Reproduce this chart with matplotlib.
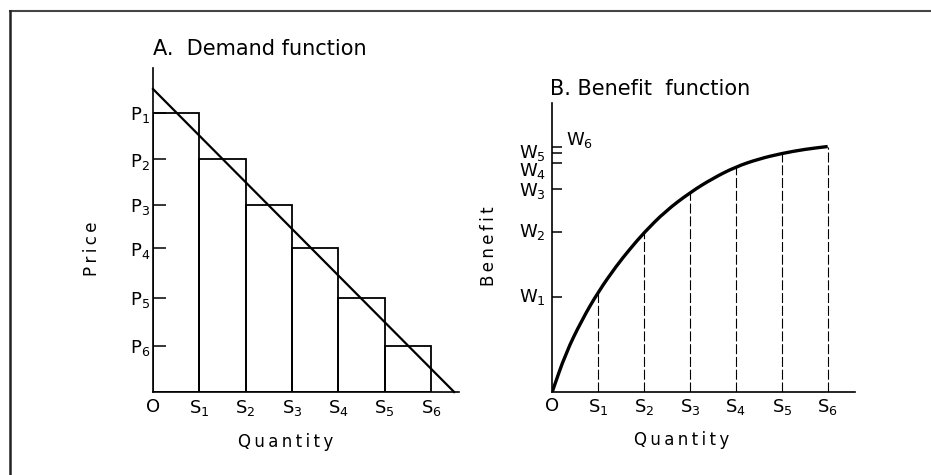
import matplotlib.pyplot as plt
from matplotlib.lines import Line2D
from matplotlib.path import Path
from matplotlib.patches import PathPatch

# Panel A: stepped demand (axis units)
quantity_labels = ["O", "S$_1$", "S$_2$", "S$_3$", "S$_4$", "S$_5$", "S$_6$"]
quantity_pos = [0, 1, 2, 3, 4, 5, 6]
step_left = [0, 1, 2, 3, 4, 5]
prices = [6.02, 5.02, 4.04, 3.1, 2.03, 1.0]
price_labels = ["P$_1$", "P$_2$", "P$_3$", "P$_4$", "P$_5$", "P$_6$"]
demand_q = [0, 6.5]
demand_p = [6.53, 0]

# Panel B: benefit curve
curve_q = [0, 0.29, 0.64, 1, 1.4, 1.69, 2, 2.46, 3, 3.5, 4, 4.5, 5, 5.5, 6]
curve_b = [0, 0.83, 1.55, 2.17, 2.74, 3.10, 3.46, 3.92, 4.33, 4.64, 4.89, 5.06, 5.18, 5.27, 5.33]
benefit_at_s = [2.17, 3.46, 4.33, 4.89, 5.18, 5.33]
w_ticks = [2.05, 3.47, 4.40, 4.97, 5.20, 5.33]
w_labels = ["W$_1$", "W$_2$", "W$_3$", "W$_4$", "W$_5$", "W$_6$"]

W, H = 931, 475
plt.rcParams['mathtext.fontset'] = 'dejavusans'
fig = plt.figure(figsize=(W / 100, H / 100), dpi=100)

def px(x, y):
    return x / W, 1 - y / H

# page frame (top and left rules only)
fig.add_artist(Line2D([10 / W, 1], [1 - 11 / H, 1 - 11 / H], color='#444444', lw=1.5))
fig.add_artist(Line2D([10 / W, 10 / W], [0, 1 - 11 / H], color='#222222', lw=1.8))

axA = fig.add_axes([153 / W, 83 / H, 6.6 * 46.33 / W, 6.98 * 46.4 / H])
axB = fig.add_axes([552.3 / W, 83.3 / H, 6.59 * 45.9 / W, 6.28 * 46 / H])

for ax in (axA, axB):
    for s in ('top', 'right'):
        ax.spines[s].set_visible(False)
    for s in ('left', 'bottom'):
        ax.spines[s].set_linewidth(1.2)
    ax.set_xticks(quantity_pos, quantity_labels, fontsize=13)
    ax.tick_params(axis='x', length=0, pad=4)
    ax.set_facecolor('none')

# --- A. Demand function
axA.set_xlim(0, 6.6)
axA.set_ylim(0, 6.98)
axA.bar(step_left, prices, width=1, align='edge', fill=False,
        edgecolor='black', linewidth=1.3)
axA.plot(demand_q, demand_p, color='black', lw=1.6, clip_on=False)
axA.set_yticks(prices, price_labels, fontsize=13)
axA.tick_params(axis='y', direction='in', length=9.5, width=1.1, pad=2)

# --- B. Benefit function
axB.set_xlim(0, 6.59)
axB.set_ylim(0, 6.28)
# smooth stroke through the read points (quadratic segments between midpoints)
pts = list(zip(curve_q, curve_b))
verts = [pts[0]]
codes = [Path.MOVETO]
for i in range(1, len(pts) - 1):
    if i == 1:
        verts.append(((pts[0][0] + pts[1][0]) / 2, (pts[0][1] + pts[1][1]) / 2))
        codes.append(Path.LINETO)
    nxt = ((pts[i][0] + pts[i + 1][0]) / 2, (pts[i][1] + pts[i + 1][1]) / 2)
    verts += [pts[i], nxt]
    codes += [Path.CURVE3, Path.CURVE3]
verts.append(pts[-1])
codes.append(Path.LINETO)
axB.add_patch(PathPatch(Path(verts, codes), fill=False, edgecolor='black',
                        lw=2.4, capstyle='butt'))
axB.vlines(quantity_pos[1:], 0, benefit_at_s, colors='black', lw=0.8,
           linestyles=(0, (9, 2.5)))
axB.set_yticks(w_ticks, [''] * len(w_ticks))
axB.tick_params(axis='y', direction='in', length=7.5, width=1.1)
label_shift = [0, 0, -0.04, -0.18, 0.0]
for w, lab, dy in zip(w_ticks[:5], w_labels[:5], label_shift):
    axB.annotate(lab, xy=(0, w + dy), xycoords=('axes fraction', 'data'),
                 xytext=(-24, 0), textcoords='offset points',
                 ha='left', va='center', fontsize=13)
axB.annotate(w_labels[5], xy=(0, w_ticks[5] + 0.14), xycoords=('axes fraction', 'data'),
             xytext=(10, 0), textcoords='offset points',
             ha='left', va='center', fontsize=13)

# titles and axis labels
ts = '\u2009'
fig.text(*px(153, 55), "A.  Demand function", fontsize=15, ha='left', va='baseline')
fig.text(*px(550, 95), "B. Benefit  function", fontsize=15, ha='left', va='baseline')
fig.text(*px(92, 249), ts.join("Price"), fontsize=12, rotation=90, ha='center', va='center')
fig.text(*px(489, 246), ts.join("Benefit"), fontsize=12, rotation=90, ha='center', va='center')
fig.text(*px(286, 442), ts.join("Quantity"), fontsize=12, ha='center', va='center')
fig.text(*px(682, 440), ts.join("Quantity"), fontsize=12, ha='center', va='center')

fig.savefig("out.png", dpi=100)
